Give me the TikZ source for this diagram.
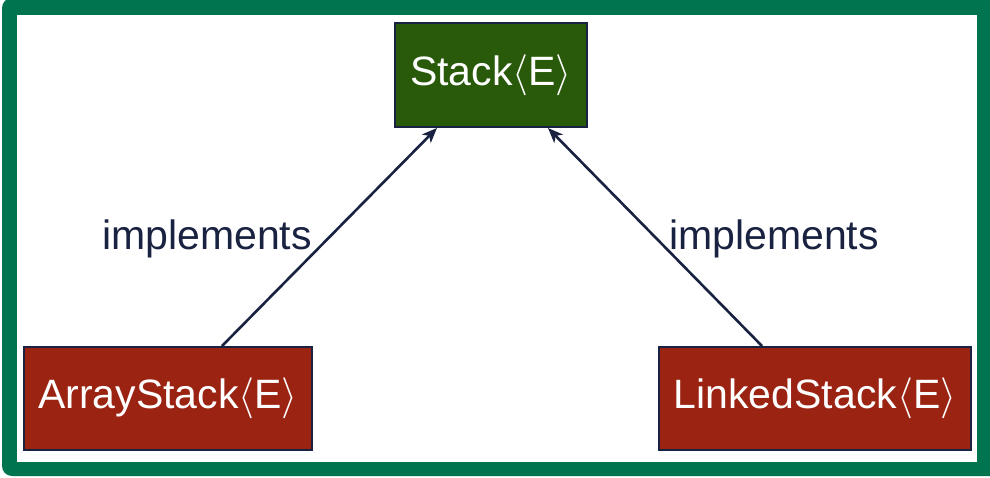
\documentclass[tikz,border=0pt]{standalone}
\usepackage{fix-cm}
\usepackage{fontspec}
\setmainfont{Liberation Sans}
\usetikzlibrary{arrows.meta}
\definecolor{framegreen}{HTML}{00734F}
\definecolor{ifacegreen}{HTML}{285A0A}
\definecolor{classred}{HTML}{9B2312}
\definecolor{inkblue}{HTML}{192341}
\tikzset{
  box/.style={draw=inkblue, line width=2pt, text=white, inner sep=0pt,
    font=\fontsize{41}{49}\selectfont},
  iface/.style={box, fill=ifacegreen},
  cls/.style={box, fill=classred},
  impl/.style={draw=inkblue, line width=2.6pt, -{Stealth[length=15pt,width=12pt,inset=4pt]}},
  lbl/.style={text=inkblue, font=\fontsize{41}{49}\selectfont, inner sep=0pt}
}
\begin{document}
\begin{tikzpicture}[x=1pt,y=-1pt]
\useasboundingbox (0,0) rectangle (990,478);
% outer frame
\fill[framegreen, rounded corners=10pt] (2,-2) rectangle (1010,476);
\fill[white] (17,15) rectangle (977,462);
% boxes
\node[iface, minimum width=192pt, minimum height=104pt] (stack) at (491,75) {Stack$\langle$E$\rangle$};
\node[cls, minimum width=288pt, minimum height=103pt] (array) at (168,398.5) {ArrayStack$\langle$E$\rangle$};
\node[cls, minimum width=312pt, minimum height=103pt] (linked) at (815,398.5) {LinkedStack$\langle$E$\rangle$};
% realisation arrows
\draw[impl] ([xshift=54pt]array.north) -- ([xshift=-54pt]stack.south);
\draw[impl] ([xshift=-53pt]linked.north) -- ([xshift=57pt]stack.south);
\node[lbl] (implA) at (207,239) {implements};
\node[lbl] (implB) at (774,239) {implements};
\end{tikzpicture}
\end{document}
